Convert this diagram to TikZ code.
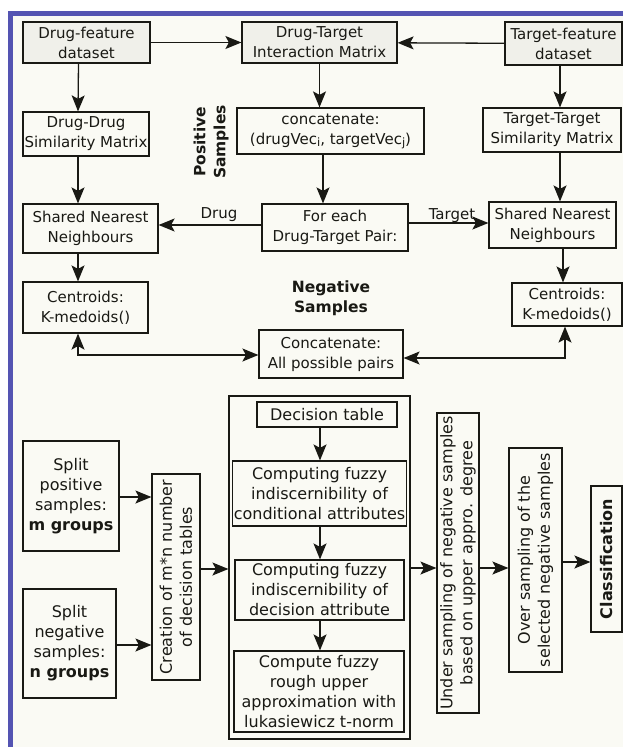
\documentclass[tikz,border=0pt]{standalone}
\usepackage{fontspec}
\setmainfont{DejaVu Sans}
\usetikzlibrary{arrows.meta,calc}
\definecolor{cream}{RGB}{250,250,244}
\definecolor{graybox}{RGB}{240,240,234}
\definecolor{frameblue}{RGB}{84,84,178}
\definecolor{ink}{RGB}{25,25,20}
\newcommand{\subi}[1]{{\fontsize{11.5}{11}\selectfont\raisebox{-2pt}{#1}}}
\begin{document}
\begin{tikzpicture}[x=1pt,y=-1pt,
  box/.style={draw=ink,line width=1.2pt,fill=cream,inner sep=1pt,align=center,
    font=\fontsize{15}{20}\selectfont,text=ink},
  bbox/.style={box,font=\fontsize{16}{20}\selectfont},
  gbox/.style={box,fill=graybox},
  rbox/.style={bbox,rotate=90},
  arr/.style={draw=ink,line width=1.3pt,-{Stealth[length=16pt,width=13pt,inset=3.5pt]}},
  darr/.style={draw=ink,line width=1.3pt,{Stealth[length=16pt,width=13pt,inset=3.5pt]}-{Stealth[length=16pt,width=13pt,inset=3.5pt]}},
  lbl/.style={font=\fontsize{15}{20}\selectfont,text=ink,inner sep=0pt},
  blbl/.style={font=\fontsize{15.5}{20}\selectfont\bfseries,text=ink,align=center,inner sep=0pt}
]
\useasboundingbox (0,0) rectangle (623,747);
\fill[white] (0,0) rectangle (623,747);
\fill[cream] (13,15) rectangle (623,747);
\fill[frameblue] (8,11) rectangle (13,747);
\fill[frameblue] (8,11) rectangle (623,15.5);

% top section
\node[gbox,minimum width=127,minimum height=41] (dfd) at (86.5,42.5) {Drug-feature\\dataset};
\node[gbox,minimum width=155,minimum height=41] (dti) at (319.5,42.5) {Drug-Target\\Interaction Matrix};
\node[gbox,minimum width=117,minimum height=43] (tfd) at (563.5,43.5) {Target-feature\\dataset};
\node[box,minimum width=126,minimum height=44] (dds) at (86,134) {Drug-Drug\\Similarity Matrix};
\node[box,minimum width=187,minimum height=46] (cat) at (330.5,131) {concatenate:\\(drugVec\subi{i}, targetVec\subi{j})};
\node[box,minimum width=138,minimum height=44] (tts) at (552,130) {Target-Target\\Similarity Matrix};
\node[box,minimum width=135,minimum height=49] (snnL) at (90.5,228.5) {Shared Nearest\\Neighbours};
\node[box,minimum width=146,minimum height=47] (fe) at (335,227.5) {For each\\Drug-Target Pair:};
\node[box,minimum width=127,minimum height=46] (snnR) at (552.5,225) {Shared Nearest\\Neighbours};
\node[box,minimum width=125,minimum height=51] (cenL) at (85.5,307.5) {Centroids:\\K-medoids()};
\node[box,minimum width=110,minimum height=43] (cenR) at (567,304.5) {Centroids:\\K-medoids()};
\node[box,minimum width=144,minimum height=48] (allp) at (331,354) {Concatenate:\\All possible pairs};
\node[blbl,rotate=90] (pos) at (211,142) {Positive\\Samples};
\node[blbl] (neg) at (331,298) {Negative\\Samples};

\draw[arr] (dfd) -- (dti);
\draw[arr] (tfd) -- (dti);
\draw[arr] ([xshift=-8]dfd.south) -- ([xshift=-8]dds.north);
\draw[arr] (dti.south) -- (dti.south |- cat.north);
\draw[arr] ([xshift=-3.5]tfd.south) -- ([xshift=-3.5]tfd.south |- tts.north);
\draw[arr] ([xshift=-8]dds.south) -- ([xshift=-12.5]snnL.north);
\draw[arr] ([xshift=-7.5]cat.south) -- ([xshift=-12]fe.north);
\draw[arr] ([xshift=8]tts.south) -- ([xshift=7.5]snnR.north);
\draw[arr] ([yshift=2.5]fe.west) -- ([yshift=2.5]fe.west -| snnL.east);
\node[lbl] (ldrug) at (219,215) {Drug};
\draw[arr] ([yshift=4.5]fe.east) -- ([yshift=4.5]fe.east -| snnR.west);
\node[lbl] (ltarget) at (452,216) {Target};
\draw[arr] ([xshift=-12.5]snnL.south) -- ([xshift=-7.5]cenL.north);
\draw[arr] ([xshift=10.5]snnR.south) -- ([xshift=-4]cenR.north);
\coordinate (kL) at ([xshift=-7.5]cenL.south |- 0,355);
\coordinate (kR) at ([xshift=-2]cenR.south |- 0,358);
\draw[darr] ([xshift=-7.5]cenL.south) -- (kL) -- (kL -| allp.west);
\draw[darr] ([xshift=-2]cenR.south) -- (kR) -- (kR -| allp.east);

% bottom section
\node[bbox,minimum width=96,minimum height=110] (splitP) at (71,496) {Split\\positive\\samples:\\\textbf{m groups}};
\node[bbox,minimum width=93,minimum height=109] (splitN) at (69.5,643.5) {Split\\negative\\samples:\\\textbf{n groups}};
\node[rbox,minimum width=206,minimum height=48] (creat) at (176,577) {Creation of m*n number\\of decision tables};
\node[bbox,minimum width=181,minimum height=343] (big) at (319.5,567.5) {};
\node[bbox,minimum width=140,minimum height=25] (dt) at (327,414.5) {Decision table};
\node[bbox,minimum width=169,minimum height=65] (c1) at (319.5,493.5) {Computing fuzzy\\indiscernibility of\\conditional attributes};
\node[bbox,minimum width=169,minimum height=60] (c2) at (319.5,590) {Computing fuzzy\\indiscernibility of\\decision attribute};
\node[bbox,minimum width=170,minimum height=81] (c3) at (319,691.5) {Compute fuzzy\\rough upper\\approximation with\\lukasiewicz t-norm};
\node[rbox,minimum width=300,minimum height=42] (under) at (458,563) {Under sampling of negative samples\\based on upper appro. degree};
\node[rbox,minimum width=224,minimum height=53] (over) at (535.5,560) {Over sampling of the\\selected negative samples};
\node[rbox,minimum width=146,minimum height=31] (cls) at (606.5,559) {\textbf{Classification}};

\draw[arr] (splitP.east |- 0,497) -- (creat.north |- 0,497);
\draw[arr] (splitN.east |- 0,645) -- (creat.north |- 0,645);
\draw[arr] (creat.south |- 0,569) -- (big.west |- 0,569);
\draw[arr] (dt.south -| 320,0) -- (c1.north -| 320,0);
\draw[arr] (c1.south -| 320,0) -- (c2.north -| 320,0);
\draw[arr] (c2.south -| 320,0) -- (c3.north -| 320,0);
\draw[arr] (big.east |- 0,568) -- (under.north |- 0,568);
\draw[arr] (under.south |- 0,568) -- (over.north |- 0,568);
\draw[arr] (over.south |- 0,562) -- (cls.north |- 0,562);
\end{tikzpicture}
\end{document}
